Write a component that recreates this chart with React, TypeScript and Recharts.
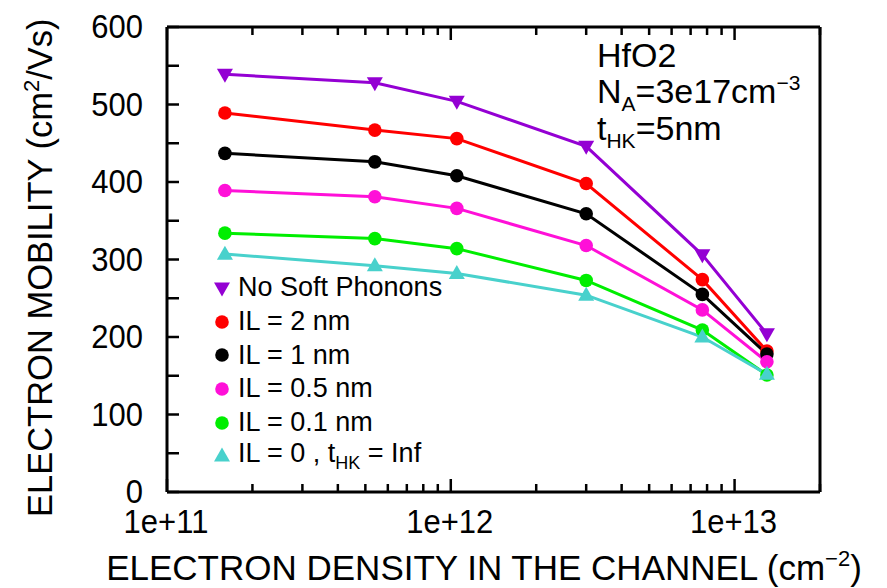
import React from 'react';
import { LineChart, Line, XAxis, YAxis, Legend } from 'recharts';

const densities = [1.6e11, 5.4e11, 1.05e12, 3.0e12, 7.7e12, 1.3e13];
const noSoftPhonons = [539, 528, 504, 446, 306, 204];
const il2nm = [489, 467, 456, 398, 274, 182];
const il1nm = [437, 426, 408, 359, 255, 178];
const il05nm = [389, 381, 366, 318, 235, 168];
const il01nm = [334, 327, 314, 273, 209, 151];
const il0Inf = [307, 292, 282, 254, 200, 152];

const xTicks = [
  1e11, 2e11, 3e11, 4e11, 5e11, 6e11, 7e11, 8e11, 9e11,
  1e12, 2e12, 3e12, 4e12, 5e12, 6e12, 7e12, 8e12, 9e12,
  1e13, 2e13,
];
const xMajor = [1e11, 1e12, 1e13];
const xMajorLabels = ['1e+11', '1e+12', '1e+13'];
const yTicks = [0, 50, 100, 150, 200, 250, 300, 350, 400, 450, 500, 550, 600];
const yLabeled = [0, 100, 200, 300, 400, 500, 600];

const FONT = '"Liberation Sans", Arial, Helvetica, sans-serif';

type Shape = 'down' | 'up' | 'circle';
const series: { key: string; name: string; color: string; shape: Shape; values: number[] }[] = [
  { key: 'nsp', name: 'No Soft Phonons', color: '#9400d3', shape: 'down', values: noSoftPhonons },
  { key: 'il2', name: 'IL = 2 nm', color: '#ff0000', shape: 'circle', values: il2nm },
  { key: 'il1', name: 'IL = 1 nm', color: '#000000', shape: 'circle', values: il1nm },
  { key: 'il05', name: 'IL = 0.5 nm', color: '#ff10d8', shape: 'circle', values: il05nm },
  { key: 'il01', name: 'IL = 0.1 nm', color: '#00ee00', shape: 'circle', values: il01nm },
  { key: 'il0', name: 'IL = 0 , tHK = Inf', color: '#48d1cc', shape: 'up', values: il0Inf },
];

const data = densities.map((x, i) => {
  const row: Record<string, number> = { x };
  series.forEach((s) => {
    row[s.key] = s.values[i];
  });
  return row;
});

const Marker = ({ shape, cx, cy, color, size = 8 }: { shape: Shape; cx: number; cy: number; color: string; size?: number }) => {
  if (shape === 'circle') return <circle cx={cx} cy={cy} r={size * 0.85} fill={color} />;
  if (shape === 'down')
    return <path d={`M${cx - size},${cy - size * 0.7} L${cx + size},${cy - size * 0.7} L${cx},${cy + size * 1.05} Z`} fill={color} />;
  return <path d={`M${cx - size},${cy + size * 0.7} L${cx + size},${cy + size * 0.7} L${cx},${cy - size * 1.05} Z`} fill={color} />;
};

// tick labels in the original are a little taller than Arial
const TallText = ({ x, y, anchor, size, children }: any) => (
  <text transform={`translate(${x},${y}) scale(1,1.1)`} textAnchor={anchor} fontSize={size} fontFamily={FONT} fill="#000">
    {children}
  </text>
);

const BottomTick = ({ x, y, payload }: any) => {
  const idx = xMajor.indexOf(payload.value);
  const major = idx >= 0;
  return (
    <g>
      <line x1={x} x2={x} y1={y} y2={y - (major ? 13 : 8)} stroke="#000" strokeWidth={2.5} />
      {major && (
        <TallText x={x - 1} y={y + 41} anchor="middle" size={31}>
          {xMajorLabels[idx]}
        </TallText>
      )}
    </g>
  );
};

const TopTick = ({ x, y, payload }: any) => {
  const major = xMajor.includes(payload.value);
  return <line x1={x} x2={x} y1={y} y2={y + (major ? 13 : 8)} stroke="#000" strokeWidth={2.5} />;
};

const LeftTick = ({ x, y, payload }: any) => (
  <g>
    <line x1={x} x2={x + 12} y1={y} y2={y} stroke="#000" strokeWidth={2.5} />
    {yLabeled.includes(payload.value) && (
      <TallText x={x - 24} y={y + 11} anchor="end" size={31}>
        {payload.value}
      </TallText>
    )}
  </g>
);

const RightTick = ({ x, y }: any) => <line x1={x} x2={x - 10} y1={y} y2={y} stroke="#000" strokeWidth={2.5} />;

const legendLabel = (name: string) => {
  const parts = name.split('tHK');
  if (parts.length === 1) return name;
  return (
    <>
      {parts[0]}t<sub style={{ fontSize: 18, verticalAlign: -7 }}>HK</sub>
      {parts[1]}
    </>
  );
};

const LegendBox = () => (
  <div style={{ fontFamily: FONT, fontSize: 27, color: '#000' }}>
    {series.map((s) => (
      <div key={s.key} style={{ display: 'flex', alignItems: 'center', height: 33.7, whiteSpace: 'nowrap' }}>
        <svg width={18} height={20} style={{ marginRight: 7 }}>
          <Marker shape={s.shape} cx={9} cy={10} color={s.color} size={8} />
        </svg>
        <span>{legendLabel(s.name)}</span>
      </div>
    ))}
  </div>
);

const App = () => {
  return (
    <div style={{ position: 'absolute', left: 0, top: 0, width: 887, height: 588, background: '#fff' }}>
      <LineChart width={887} height={588} data={data} margin={{ top: 0, right: 0, bottom: 0, left: 0 }}>
        <XAxis
          dataKey="x"
          type="number"
          scale="log"
          domain={[1e11, 2e13]}
          allowDataOverflow
          ticks={xTicks}
          interval={0}
          height={96}
          tickSize={0}
          tickMargin={0}
          tick={<BottomTick />}
          axisLine={{ stroke: '#000', strokeWidth: 3 }}
        />
        <XAxis
          xAxisId="top"
          orientation="top"
          dataKey="x"
          type="number"
          scale="log"
          domain={[1e11, 2e13]}
          allowDataOverflow
          ticks={xTicks}
          interval={0}
          height={27}
          tickSize={0}
          tickMargin={0}
          tick={<TopTick />}
          axisLine={{ stroke: '#000', strokeWidth: 3 }}
        />
        <YAxis
          type="number"
          domain={[0, 600]}
          ticks={yTicks}
          interval={0}
          width={167}
          tickSize={0}
          tickMargin={0}
          tick={<LeftTick />}
          axisLine={{ stroke: '#000', strokeWidth: 3 }}
        />
        <YAxis
          yAxisId="right"
          orientation="right"
          type="number"
          domain={[0, 600]}
          ticks={yTicks}
          interval={0}
          width={67}
          tickSize={0}
          tickMargin={0}
          tick={<RightTick />}
          axisLine={{ stroke: '#000', strokeWidth: 3 }}
        />
        {series.map((s) => (
          <Line
            key={s.key}
            dataKey={s.key}
            name={s.name}
            stroke={s.color}
            strokeWidth={3}
            isAnimationActive={false}
            dot={(p: any) => <Marker key={`${s.key}-${p.index}`} shape={s.shape} cx={p.cx} cy={p.cy} color={s.color} size={8} />}
            activeDot={false}
          />
        ))}
        <Legend
          layout="vertical"
          align="center"
          verticalAlign="middle"
          content={<LegendBox />}
          wrapperStyle={{ left: 213, top: 271, width: 'auto' }}
        />
      </LineChart>
      <svg width={887} height={588} style={{ position: 'absolute', left: 0, top: 0, pointerEvents: 'none' }}>
        <g fontFamily={FONT} fill="#000">
          <text transform="translate(52,517) rotate(-90)" textAnchor="start" fontSize={34.5}>
            ELECTRON MOBILITY (cm<tspan dy={-13} fontSize={22}>2</tspan>
            <tspan dy={13}>/Vs)</tspan>
          </text>
          <text x={484} y={580} textAnchor="middle" fontSize={35}>
            ELECTRON DENSITY IN THE CHANNEL (cm<tspan dy={-14} fontSize={22}>−2</tspan>
            <tspan dy={14}>)</tspan>
          </text>
          <text x={597} y={67} fontSize={34}>HfO2</text>
          <text x={597} y={103} fontSize={34}>
            N<tspan dy={8} fontSize={21}>A</tspan>
            <tspan dy={-8}>=3e17cm</tspan>
            <tspan dy={-13} fontSize={21}>−3</tspan>
          </text>
          <text x={597} y={140} fontSize={34}>
            t<tspan dy={8} fontSize={21}>HK</tspan>
            <tspan dy={-8}>=5nm</tspan>
          </text>
        </g>
      </svg>
    </div>
  );
};

export default App;
